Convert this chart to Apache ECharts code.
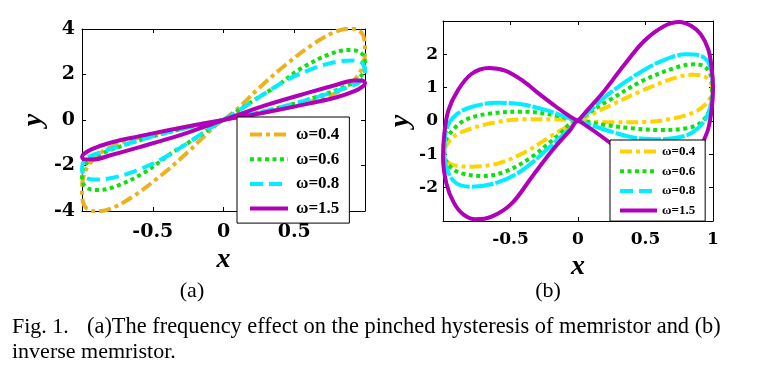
<!DOCTYPE html>
<html>
<head>
<meta charset="utf-8">
<script src="https://cdn.jsdelivr.net/npm/echarts@6/dist/echarts.min.js"></script>
<style>
html,body{margin:0;padding:0;background:#fff;}
#c{width:772px;height:382px;}
</style>
</head>
<body>
<div id="c"></div>
<script>
// ---------- data ----------
const legendNames = ['ω=0.4', 'ω=0.6', 'ω=0.8', 'ω=1.5'];
const xLabelsA = ['-0.5', '0', '0.5'];
const yLabelsA = ['-4', '-2', '0', '2', '4'];
const xLabelsB = ['-0.5', '0', '0.5', '1'];
const yLabelsB = ['-2', '-1', '0', '1', '2'];

// (a) memristor loops  [x, y]
const a04 = [[0,0],[0.1,0.5],[0.25,1.4],[0.44,2.43],[0.63,3.32],[0.79,3.88],[0.9,4.02],[0.965,3.9],[0.995,3.55],[1.0,3.0],[0.99,2.5],[0.96,2.05],[0.9,1.6],[0.8,1.2],[0.6,0.78],[0.4,0.48],[0.2,0.22],[0,0],
  [-0.1,-0.5],[-0.25,-1.4],[-0.44,-2.43],[-0.63,-3.32],[-0.79,-3.88],[-0.9,-4.02],[-0.965,-3.9],[-0.995,-3.55],[-1.0,-3.0],[-0.99,-2.5],[-0.96,-2.05],[-0.9,-1.6],[-0.8,-1.2],[-0.6,-0.78],[-0.4,-0.48],[-0.2,-0.22],[0,0]];
const a06 = [[0,0],[0.1,0.4],[0.2,0.81],[0.37,1.47],[0.555,2.29],[0.745,2.88],[0.887,3.08],[0.96,3.0],[0.995,2.75],[1.0,2.4],[0.985,2.05],[0.94,1.75],[0.85,1.45],[0.7,1.1],[0.5,0.72],[0.3,0.4],[0.12,0.15],[0,0],
  [-0.1,-0.4],[-0.2,-0.81],[-0.37,-1.47],[-0.555,-2.29],[-0.745,-2.88],[-0.887,-3.08],[-0.96,-3.0],[-0.995,-2.75],[-1.0,-2.4],[-0.985,-2.05],[-0.94,-1.75],[-0.85,-1.45],[-0.7,-1.1],[-0.5,-0.72],[-0.3,-0.4],[-0.12,-0.15],[0,0]];
const a08 = [[0,0],[0.1,0.38],[0.25,1.0],[0.437,1.72],[0.626,2.25],[0.79,2.55],[0.92,2.62],[0.98,2.5],[1.0,2.15],[0.99,1.85],[0.95,1.62],[0.85,1.38],[0.7,1.08],[0.5,0.72],[0.3,0.4],[0.12,0.15],[0,0],
  [-0.1,-0.38],[-0.25,-1.0],[-0.437,-1.72],[-0.626,-2.25],[-0.79,-2.55],[-0.92,-2.62],[-0.98,-2.5],[-1.0,-2.15],[-0.99,-1.85],[-0.95,-1.62],[-0.85,-1.38],[-0.7,-1.08],[-0.5,-0.72],[-0.3,-0.4],[-0.12,-0.15],[0,0]];
const a15 = [[0,0],[0.1,0.22],[0.3,0.65],[0.6,1.2],[0.8,1.55],[0.92,1.74],[0.98,1.74],[1.0,1.62],[0.985,1.48],[0.93,1.28],[0.8,1.0],[0.6,0.72],[0.4,0.46],[0.2,0.22],[0,0],
  [-0.1,-0.22],[-0.3,-0.65],[-0.6,-1.2],[-0.8,-1.55],[-0.92,-1.74],[-0.98,-1.74],[-1.0,-1.62],[-0.985,-1.48],[-0.93,-1.28],[-0.8,-1.0],[-0.6,-0.72],[-0.4,-0.46],[-0.2,-0.22],[0,0]];

// (b) inverse memristor loops  [x, y]
const b04 = [[0,0],[0.1,0.2],[0.23,0.45],[0.48,0.92],[0.73,1.31],[0.855,1.39],[0.93,1.35],[0.975,1.2],[0.995,1.0],[0.985,0.75],[0.95,0.52],[0.88,0.3],[0.73,0.1],[0.5,-0.03],[0.25,-0.04],[0.1,-0.02],[0,0],
  [-0.085,-0.18],[-0.21,-0.48],[-0.39,-0.93],[-0.59,-1.27],[-0.79,-1.37],[-0.89,-1.35],[-0.95,-1.28],[-0.985,-1.1],[-0.995,-0.92],[-0.975,-0.73],[-0.93,-0.5],[-0.86,-0.33],[-0.66,-0.08],[-0.41,0.05],[-0.16,0.05],[0,0]];
const b06 = [[0,0],[0.1,0.3],[0.23,0.62],[0.48,1.21],[0.73,1.61],[0.855,1.7],[0.93,1.65],[0.975,1.45],[0.995,1.1],[0.99,0.72],[0.97,0.3],[0.91,-0.05],[0.8,-0.22],[0.6,-0.27],[0.4,-0.22],[0.2,-0.12],[0,0],
  [-0.16,-0.48],[-0.34,-1.07],[-0.54,-1.52],[-0.71,-1.65],[-0.86,-1.57],[-0.94,-1.4],[-0.985,-1.1],[-0.99,-0.75],[-0.95,-0.38],[-0.84,0.02],[-0.66,0.22],[-0.41,0.28],[-0.21,0.2],[0,0]];
const b08 = [[0,0],[0.1,0.35],[0.23,0.82],[0.48,1.51],[0.65,1.85],[0.8,2.0],[0.9,1.97],[0.96,1.8],[0.99,1.45],[1.0,1.0],[0.985,0.5],[0.95,0.1],[0.88,-0.25],[0.79,-0.45],[0.62,-0.55],[0.42,-0.5],[0.23,-0.3],[0.08,-0.1],[0,0],
  [-0.06,-0.23],[-0.21,-0.78],[-0.41,-1.47],[-0.6,-1.85],[-0.79,-1.97],[-0.9,-1.87],[-0.96,-1.55],[-0.99,-1.0],[-0.985,-0.5],[-0.96,-0.1],[-0.9,0.2],[-0.79,0.42],[-0.6,0.55],[-0.42,0.5],[-0.23,0.32],[-0.08,0.1],[0,0]];
const b15 = [[0,0],[0.06,0.28],[0.19,0.88],[0.34,1.67],[0.49,2.4],[0.64,2.85],[0.75,2.97],[0.84,2.85],[0.91,2.6],[0.965,2.15],[0.99,1.6],[1.0,1.0],[0.99,0.35],[0.96,-0.3],[0.89,-0.9],[0.79,-1.41],[0.66,-1.59],[0.54,-1.51],[0.41,-1.21],[0.29,-0.82],[0.16,-0.42],[0.06,-0.14],[0,0],
  [-0.06,-0.28],[-0.19,-0.88],[-0.34,-1.67],[-0.49,-2.47],[-0.64,-2.87],[-0.76,-2.95],[-0.85,-2.8],[-0.92,-2.45],[-0.975,-1.87],[-1.0,-1.07],[-0.99,-0.38],[-0.96,0.32],[-0.89,0.92],[-0.79,1.41],[-0.66,1.59],[-0.54,1.51],[-0.41,1.21],[-0.29,0.82],[-0.16,0.42],[-0.06,0.14],[0,0]];

// ---------- styling ----------
const colA = ['#EDB120', '#10E010', '#00EEFF', '#B000B8'];
const colB = ['#FFD200', '#10E010', '#00EEFF', '#B000B8'];
const dashesA = [[12,4,4,4], [4,3.5], [13,6], 'solid'];
const dashesB = [[12,4,4,4], [4,3.5], [22,2], 'solid'];
const tickFontA = {fontFamily:'DejaVu Serif', fontWeight:'bold', fontSize:19, color:'#000'};
const tickFontB = {fontFamily:'DejaVu Serif', fontWeight:'bold', fontSize:17, color:'#000'};
const nameFont = {fontFamily:'Liberation Serif', fontStyle:'italic', fontWeight:'bold', fontSize:28, color:'#000'};
const line = {show:true, onZero:false, lineStyle:{color:'#000', width:1}};
const tick = {show:true, inside:true, length:4, lineStyle:{color:'#000', width:1}};
const pick = (arr) => (v) => { const s = String(v); return arr.indexOf(s) >= 0 ? s : ''; };

function mkSeries(prefix, datas, cols, dashes, xi) {
  return datas.map((d, i) => ({
    name: prefix + i,
    type: 'line',
    xAxisIndex: xi, yAxisIndex: xi,
    data: d,
    showSymbol: false, symbol: 'none',
    smooth: 0.35,
    lineStyle: {color: cols[i], width: 4, type: dashes[i], cap: 'butt'},
    itemStyle: {color: cols[i]},
    z: 2,
    animation: false
  }));
}

const legendCommon = {
  orient:'vertical', backgroundColor:'#fff', borderColor:'#000', borderWidth:1, borderRadius:0,
  formatter:(n)=>legendNames[+n.slice(1)], selectedMode:false, z: 20,
  lineStyle:{width:4},
  itemStyle:{opacity:0, color:'rgba(0,0,0,0)', borderColor:'rgba(0,0,0,0)', borderWidth:0}
};

const chart = echarts.init(document.getElementById('c'), null, {renderer:'canvas'});
chart.setOption({
  backgroundColor: '#fff',
  animation: false,
  grid: [
    {left: 82, top: 29, width: 283, height: 182},
    {left: 443, top: 21, width: 270, height: 200}
  ],
  xAxis: [
    {type:'value', gridIndex:0, min:-1, max:1, interval:0.5, position:'bottom',
     axisLine:line, axisTick:tick, splitLine:{show:false},
     axisLabel:Object.assign({margin:12, formatter: pick(xLabelsA)}, tickFontA),
     name:'x', nameLocation:'middle', nameGap:35, nameTextStyle:nameFont},
    {type:'value', gridIndex:1, min:-1, max:1, interval:0.5, position:'bottom',
     axisLine:line, axisTick:tick, splitLine:{show:false},
     axisLabel:Object.assign({margin:10, formatter: pick(xLabelsB)}, tickFontB),
     name:'x', nameLocation:'middle', nameGap:27, nameTextStyle:nameFont},
    {type:'value', gridIndex:0, min:-1, max:1, interval:0.5, position:'top',
     axisLine:line, axisTick:tick, axisLabel:{show:false}, splitLine:{show:false}},
    {type:'value', gridIndex:1, min:-1, max:1, interval:0.5, position:'top',
     axisLine:line, axisTick:tick, axisLabel:{show:false}, splitLine:{show:false}}
  ],
  yAxis: [
    {type:'value', gridIndex:0, min:-4, max:4, interval:2, position:'left',
     axisLine:line, axisTick:tick, splitLine:{show:false},
     axisLabel:Object.assign({margin:7, formatter: pick(yLabelsA)}, tickFontA),
     name:'y', nameLocation:'middle', nameRotate:90, nameGap:34, nameTextStyle:nameFont},
    {type:'value', gridIndex:1, min:-3, max:3, interval:1, position:'left',
     axisLine:line, axisTick:tick, splitLine:{show:false},
     axisLabel:Object.assign({margin:5, formatter: pick(yLabelsB)}, tickFontB),
     name:'y', nameLocation:'middle', nameRotate:90, nameGap:28, nameTextStyle:nameFont},
    {type:'value', gridIndex:0, min:-4, max:4, interval:2, position:'right',
     axisLine:line, axisTick:tick, axisLabel:{show:false}, splitLine:{show:false}},
    {type:'value', gridIndex:1, min:-3, max:3, interval:1, position:'right',
     axisLine:line, axisTick:tick, axisLabel:{show:false}, splitLine:{show:false}}
  ],
  legend: [
    Object.assign({data:['a0','a1','a2','a3'], left:237, top:117,
     padding:[9,10,6,11], itemWidth:38, itemHeight:14, itemGap:7.7,
     textStyle:{fontFamily:'Liberation Serif', fontWeight:'bold', fontSize:17, color:'#000', lineHeight:14, padding:[0,0,0,3]}}, legendCommon),
    Object.assign({data:['b0','b1',{name:'b2', lineStyle:{type:[13,6], width:4}},'b3'], left:610, top:140,
     padding:[5,10,4,8], itemWidth:37, itemHeight:12, itemGap:6.7,
     textStyle:{fontFamily:'Liberation Serif', fontWeight:'bold', fontSize:13, color:'#000', lineHeight:12}}, legendCommon)
  ],
  series: mkSeries('a', [a04,a06,a08,a15], colA, dashesA, 0).concat(mkSeries('b', [b04,b06,b08,b15], colB, dashesB, 1)),
  graphic: [
    {type:'text', style:{text:'(a)', x:192, y:291, textAlign:'center', textVerticalAlign:'middle', font:'22px "Liberation Serif"', fill:'#000'}},
    {type:'text', style:{text:'(b)', x:548, y:291, textAlign:'center', textVerticalAlign:'middle', font:'22px "Liberation Serif"', fill:'#000'}},
    {type:'text', style:{text:'Fig. 1.', x:12, y:327, textAlign:'left', textVerticalAlign:'middle', font:'22px "Liberation Serif"', fill:'#000'}},
    {type:'text', style:{text:'(a)The frequency effect on the pinched hysteresis of memristor and (b)', x:87, y:327, textAlign:'left', textVerticalAlign:'middle', font:'22.4px "Liberation Serif"', fill:'#000'}},
    {type:'text', style:{text:'inverse memristor.', x:12, y:352, textAlign:'left', textVerticalAlign:'middle', font:'22px "Liberation Serif"', fill:'#000'}}
  ]
});
</script>
</body>
</html>
